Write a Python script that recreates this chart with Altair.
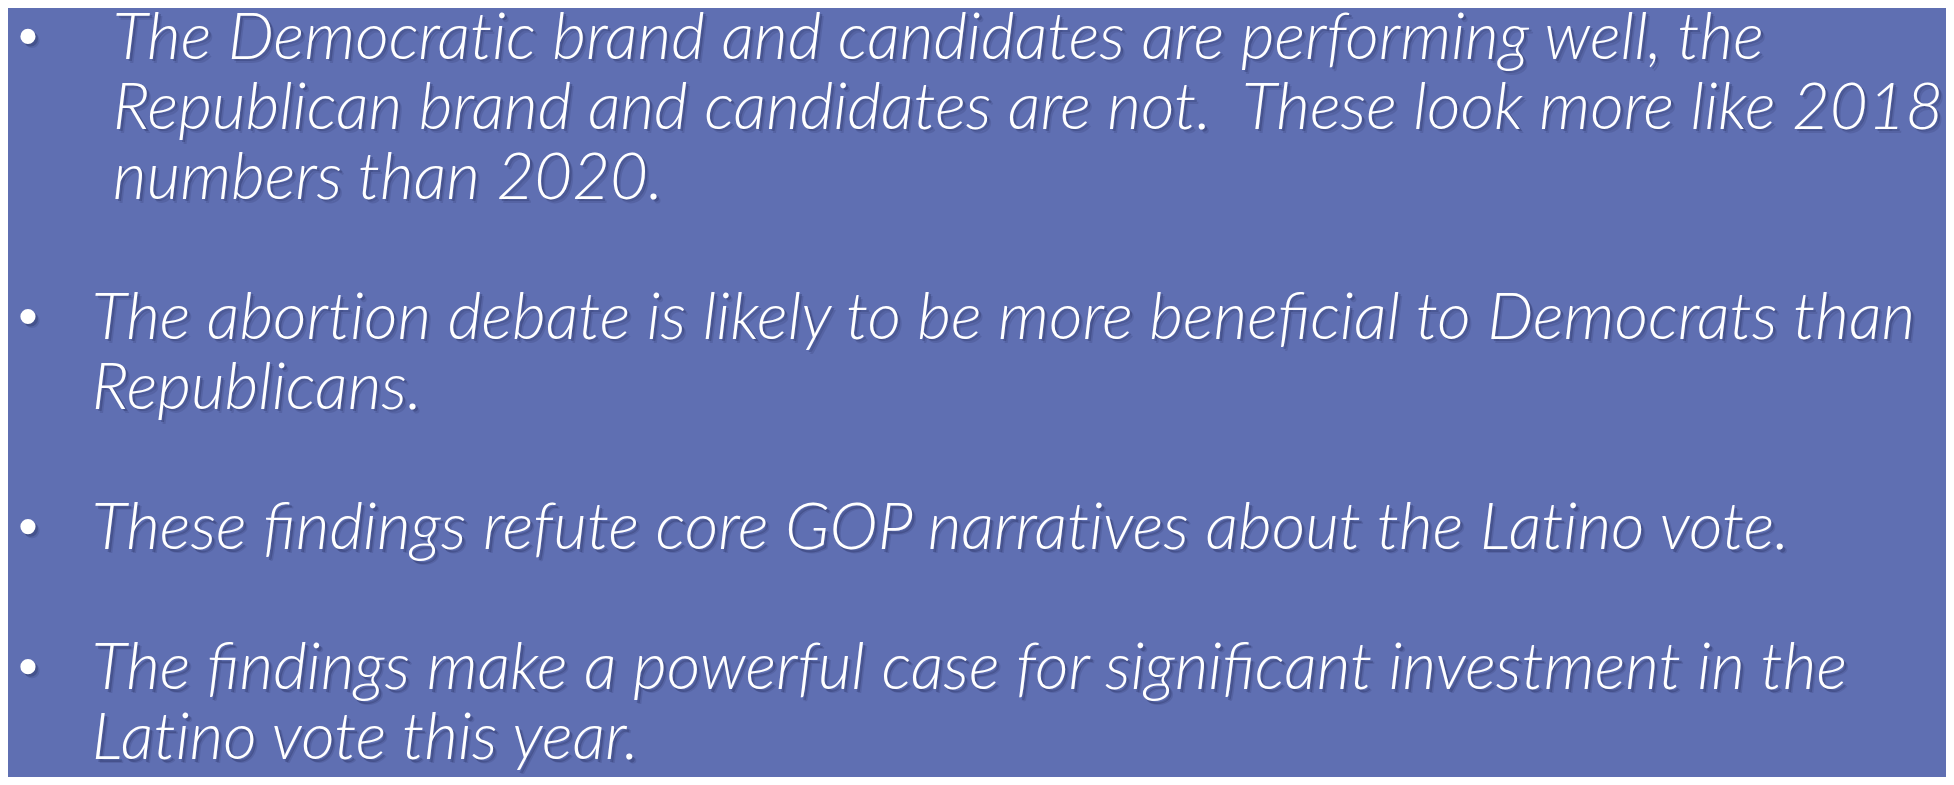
import altair as alt
import pandas as pd

# ---- content ----
lines = [
    "The Democratic brand and candidates are performing well, the",
    "Republican brand and candidates are not.\u00a0 These look more like 2018",
    "numbers than 2020.",
    "The abortion debate is likely to be more beneficial to Democrats than",
    "Republicans.",
    "These findings refute core GOP narratives about the Latino vote.",
    "The findings make a powerful case for significant investment in the",
    "Latino vote this year.",
]
bullet_of_line = [0, 0, 0, 1, 1, 2, 3, 3]

# ---- layout (page pixel coordinates) ----
W, H = 1954, 785
MARGIN = 8
FIRST_BASELINE = 55
LINE_PITCH = 71.8
TEXT_X = {0: 113, 1: 92, 2: 92, 3: 92}
BULLET_X = 28
BULLET_RISE = 23
FONT_SIZE = 65.3
BG = "#5f6fb2"

# keep "t"+"i" as separate glyphs (no ligature), as in the original slide font
display = [t.replace("ti", "t\u200ci") for t in lines]

rows = []
for i, (t, b) in enumerate(zip(display, bullet_of_line)):
    slot = i + b
    rows.append({"text": t, "x": TEXT_X[b], "y": FIRST_BASELINE + slot * LINE_PITCH, "bullet": b})
df = pd.DataFrame(rows)

first_lines = df.groupby("bullet").first().reset_index()
bdf = pd.DataFrame({"x": [BULLET_X] * len(first_lines),
                    "y": list(first_lines["y"] - BULLET_RISE)})

xs = alt.Scale(domain=[MARGIN, W - MARGIN], nice=False, zero=False)
ys = alt.Scale(domain=[MARGIN, H - MARGIN], nice=False, zero=False, reverse=True)
X = lambda: alt.X("x:Q", scale=xs, axis=None)
Y = lambda: alt.Y("y:Q", scale=ys, axis=None)

text_common = dict(align="left", baseline="alphabetic", font="Lato",
                   fontStyle="italic", fontWeight=300, fontSize=FONT_SIZE)

layers = []
for dx, dy, op in [(4, 4, 0.15), (2.5, 2.5, 0.28)]:
    layers.append(alt.Chart(df).mark_text(color="#1e2552", opacity=op, dx=dx, dy=dy,
                                          **text_common).encode(x=X(), y=Y(), text="text:N"))
    layers.append(alt.Chart(bdf).mark_circle(color="#1e2552", opacity=op, size=230,
                                             xOffset=dx, yOffset=dy).encode(x=X(), y=Y()))
layers.append(alt.Chart(df).mark_text(color="white", **text_common).encode(
    x=X(), y=Y(), text="text:N"))
layers.append(alt.Chart(bdf).mark_circle(color="white", opacity=1, size=230).encode(x=X(), y=Y()))

chart = alt.layer(*layers).properties(
    width=W - 2 * MARGIN, height=H - 2 * MARGIN, background=BG, padding=0,
    autosize=alt.AutoSizeParams(type="fit", contains="padding"),
).configure_view(stroke=None)

chart.save("out.html", embed_options={"renderer": "svg", "actions": False})
